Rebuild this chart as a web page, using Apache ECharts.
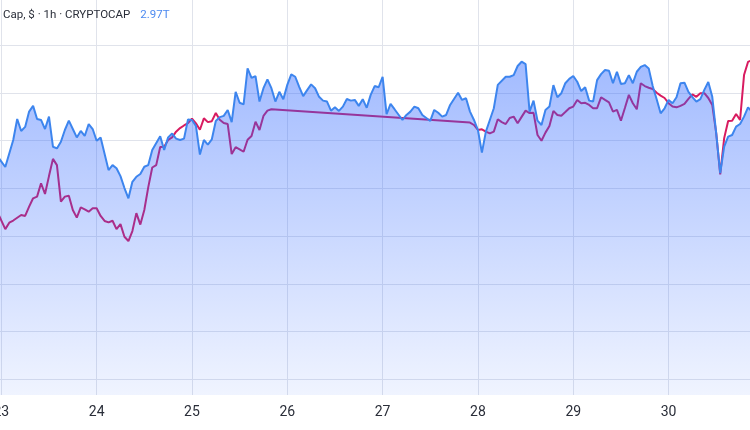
<!DOCTYPE html>
<html><head><meta charset="utf-8">
<script src="https://cdn.jsdelivr.net/npm/echarts@6/dist/echarts.min.js"></script>
<style>html,body{margin:0;padding:0;background:#fff}#c{width:750px;height:430px}</style>
</head><body><div id="c"></div>
<script>
// Hours counted from day 23, 00:00; values in billions of USD
const dayLabels = ['22','23','24','25','26','27','28','29','30','31'];
const symbolLabel = 'Cap, $ · 1h · CRYPTOCAP';
const lastValueLabel = '2.97T';

const marketCap = [[-1,2953.5],[1,2948.9],[3,2960.2],[4,2969.0],[5,2964.0],[6,2965.7],[7,2972.1],[8,2974.5],[9,2969.0],[10,2968.6],[11,2964.8],[12,2970.0],[13,2957.4],[14,2956.7],[15,2959.5],[16,2964.4],[17,2968.3],[18,2964.8],[19,2961.3],[20,2964.0],[21,2961.9],[22,2966.9],[23,2964.8],[24,2959.9],[25,2961.3],[27,2947.6],[28,2949.7],[29,2948.4],[30,2945.1],[31,2940.1],[32,2935.8],[33,2942.7],[34,2944.8],[35,2946.0],[36,2949.0],[37,2949.7],[38,2956.0],[40,2961.8],[41,2956.0],[42,2961.3],[43,2962.9],[44,2960.8],[45,2960.2],[46,2960.8],[47,2968.8],[48,2968.6],[49,2966.1],[50,2954.1],[51,2960.2],[52,2958.3],[53,2960.5],[54,2968.2],[55,2969.8],[56,2970.3],[57,2972.8],[58,2967.7],[59,2980.4],[60,2975.8],[61,2975.1],[62,2990.2],[63,2986.2],[64,2987.0],[65,2976.3],[66,2981.9],[67,2985.6],[68,2981.9],[69,2976.3],[70,2980.4],[71,2977.3],[72,2983.3],[73,2987.7],[74,2986.7],[75,2982.5],[76,2978.6],[77,2981.1],[78,2983.5],[79,2981.9],[80,2978.3],[81,2976.7],[82,2976.3],[83,2972.5],[84,2973.9],[85,2972.4],[86,2974.2],[87,2977.4],[88,2976.7],[89,2977.0],[90,2974.5],[91,2977.3],[92,2973.7],[93,2979.1],[94,2982.8],[95,2982.3],[96,2986.7],[97,2971.0],[98,2975.3],[99,2973.1],[101,2968.6],[102,2970.7],[103,2972.1],[104,2974.2],[105,2973.5],[106,2970.7],[108,2968.2],[109,2972.8],[110,2971.6],[111,2970.0],[112,2970.7],[113,2974.9],[115,2980.0],[116,2977.0],[117,2977.7],[118,2972.1],[119,2968.6],[120,2964.4],[121,2954.9],[122,2963.7],[123,2968.6],[124,2973.5],[125,2983.3],[127,2986.7],[128,2986.7],[129,2987.4],[130,2991.2],[131,2993.0],[132,2992.0],[133,2972.1],[134,2976.7],[135,2968.3],[136,2966.5],[137,2972.8],[138,2974.2],[139,2983.2],[140,2978.1],[141,2979.8],[142,2984.0],[143,2985.8],[144,2987.0],[145,2984.6],[146,2980.7],[147,2982.3],[148,2976.7],[149,2976.3],[150,2985.3],[151,2987.8],[152,2989.5],[153,2989.2],[154,2984.0],[155,2988.8],[156,2983.7],[157,2984.0],[158,2987.4],[159,2984.0],[160,2988.8],[161,2990.8],[162,2991.6],[163,2990.2],[164,2982.8],[165,2977.3],[166,2971.4],[167,2973.5],[168,2977.0],[169,2975.6],[170,2978.1],[171,2984.0],[172,2984.2],[173,2980.4],[174,2978.2],[175,2976.3],[176,2977.3],[177,2981.2],[178,2984.5],[179,2978.3],[180,2963.0],[181,2946.3],[182,2957.4],[183,2961.6],[184,2962.3],[185,2965.8],[186,2966.9],[187,2970.0],[188,2973.9],[189,2972.1]];

const compareSeries = [[-1,2930.1],[1,2922.9],[2,2925.6],[3,2926.5],[5,2928.8],[6,2928.4],[7,2932.3],[8,2935.8],[9,2936.5],[10,2942.1],[11,2937.6],[12,2945.1],[13,2952.3],[14,2949.7],[15,2934.4],[16,2936.5],[17,2936.9],[18,2930.9],[19,2927.7],[20,2932.0],[21,2931.2],[22,2930.2],[23,2931.6],[24,2931.6],[25,2928.4],[26,2926.3],[27,2925.7],[28,2926.4],[29,2922.9],[30,2925.0],[31,2919.7],[32,2917.9],[33,2922.1],[34,2929.6],[35,2924.8],[36,2930.9],[37,2940.5],[38,2948.7],[39,2949.7],[40,2957.3],[41,2957.4],[42,2960.2],[43,2961.3],[44,2963.7],[45,2965.2],[46,2966.3],[47,2967.3],[48,2969.2],[49,2967.2],[50,2964.5],[51,2969.3],[52,2967.7],[53,2968.1],[54,2971.5],[55,2968.7],[56,2967.3],[57,2966.9],[58,2954.3],[59,2957.2],[60,2956.3],[61,2955.3],[62,2960.3],[63,2961.9],[64,2967.9],[65,2964.4],[66,2970.3],[67,2972.5],[68,2973.1],[118,2967.5],[119,2966.5],[120,2964.4],[121,2964.7],[122,2963.7],[123,2963.0],[124,2963.7],[125,2968.9],[126,2967.7],[127,2966.9],[128,2969.4],[129,2970.0],[130,2967.2],[131,2969.9],[132,2972.5],[133,2971.5],[134,2971.6],[135,2962.3],[136,2959.9],[137,2963.3],[138,2966.1],[139,2972.4],[140,2970.7],[141,2970.4],[142,2971.9],[143,2973.5],[144,2974.2],[145,2977.0],[146,2975.6],[147,2975.8],[148,2974.9],[149,2973.5],[150,2973.5],[151,2978.1],[152,2977.0],[153,2976.0],[154,2972.1],[155,2972.8],[156,2968.3],[157,2973.6],[158,2979.1],[159,2975.6],[160,2973.1],[161,2984.0],[162,2982.8],[163,2982.1],[164,2981.6],[165,2980.0],[166,2978.8],[167,2977.8],[168,2975.6],[169,2974.2],[170,2973.9],[171,2974.5],[172,2975.3],[173,2977.4],[174,2979.3],[175,2978.3],[176,2979.8],[177,2979.8],[178,2977.8],[179,2974.9],[180,2963.0],[181,2945.8],[182,2961.0],[183,2968.2],[184,2968.3],[185,2971.1],[186,2968.6],[187,2987.4],[188,2992.9],[189,2993.7]];

const chart = echarts.init(document.getElementById('c'), null, {renderer: 'canvas'});
const gridColor = '#e0e3eb';
const titleFont = 'Roboto, sans-serif';
chart.setOption({
  animation: false,
  backgroundColor: '#ffffff',
  title: {
    left: 3, top: 6, padding: 0,
    text: '{a|' + symbolLabel + '}  {b|' + lastValueLabel + '}',
    textStyle: {
      fontWeight: 'normal',
      rich: {
        a: {fontFamily: titleFont, fontSize: 11.5, fontWeight: 'normal', color: '#2a2e39', lineHeight: 16},
        b: {fontFamily: titleFont, fontSize: 11.5, fontWeight: 'normal', color: '#4d8af0', lineHeight: 16}
      }
    }
  },
  grid: {left: -94.0, right: -13.9, top: 0, bottom: 35, containLabel: false, outerBoundsMode: 'none'},
  xAxis: {
    type: 'value', min: -24, max: 192, interval: 24,
    axisLine: {show: false}, axisTick: {show: false},
    axisLabel: {
      margin: 10, fontFamily: 'Roboto', fontSize: 14, color: '#2a2e39',
      formatter: v => dayLabels[Math.round((v + 24) / 24)]
    },
    splitLine: {show: true, lineStyle: {color: gridColor, width: 1}}
  },
  yAxis: {
    type: 'value', min: 2853.43, max: 3018.84,
    minInterval: 20, maxInterval: 20,
    axisLine: {show: false}, axisTick: {show: false}, axisLabel: {show: false},
    splitLine: {show: true, showMinLine: false, showMaxLine: false, lineStyle: {color: gridColor, width: 1}}
  },
  series: [
    {
      type: 'line', data: compareSeries, showSymbol: false, symbol: 'none',
      lineStyle: {color: '#d81b60', width: 2}, z: 2
    },
    {
      type: 'line', data: marketCap, showSymbol: false, symbol: 'none',
      lineStyle: {color: '#3d85ee', width: 2},
      areaStyle: {
        color: new echarts.graphic.LinearGradient(0, 0, 0, 1, [
          {offset: 0, color: 'rgba(41,98,255,0.62)'},
          {offset: 1, color: 'rgba(41,98,255,0.10)'}
        ])
      },
      z: 3
    }
  ]
});
</script>
</body></html>
